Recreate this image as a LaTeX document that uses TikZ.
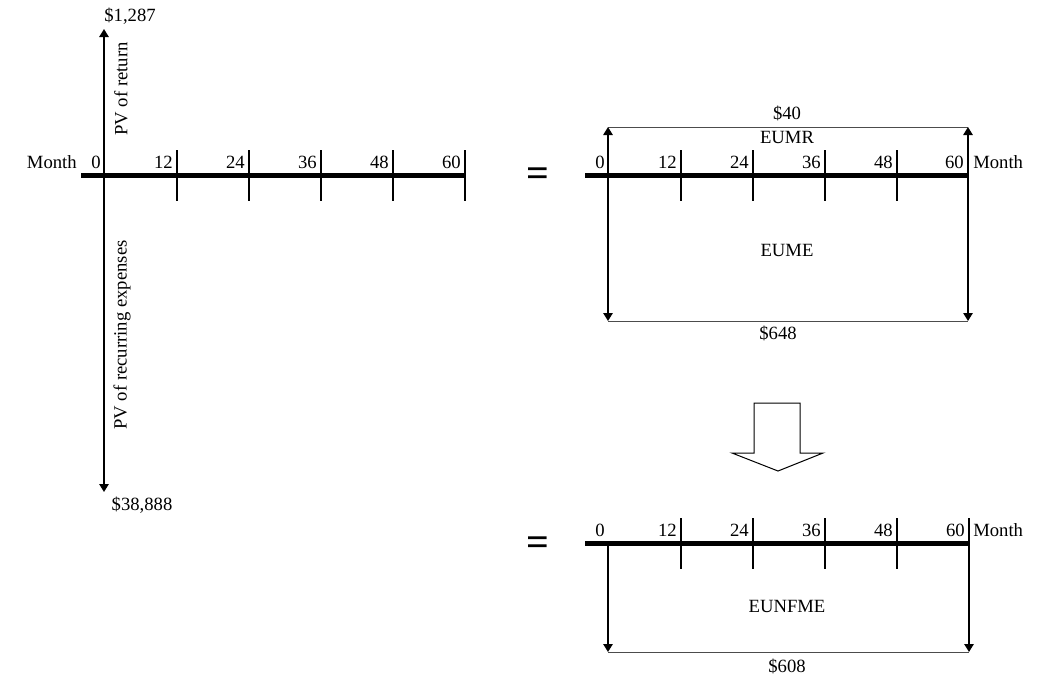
\documentclass[tikz,border=0pt]{standalone}
\usepackage{fontspec}
\setmainfont{Liberation Serif}
\usetikzlibrary{arrows.meta}
\begin{document}
\begin{tikzpicture}[>={Triangle[length=6pt, width=7pt]}, x=0.75pt, y=-0.75pt,
  lbl/.style={font=\fontsize{14}{16}\selectfont, inner sep=0pt},
  eqsign/.style={font=\fontsize{30}{30}\selectfont\bfseries, inner sep=0pt},
  axis/.style={line width=3.75pt},
  tickmark/.style={line width=1.5pt},
  flow/.style={line width=1.3pt},
  rule/.style={line width=0.75pt, black!70}]
  \useasboundingbox (0,0) rectangle (1055,690);

  % left: present values
  \coordinate (L0) at (104,175);
  \coordinate (Ltop) at (104,29);
  \coordinate (Lbot) at (104,492);
  \draw[axis] (81,175) -- (465,175);
  \foreach \x/\m in {177/12, 249/24, 321/36, 393/48, 465/60} {
    \draw[tickmark] (\x,150) -- (\x,201);
    \node[lbl, anchor=east] (l\m) at (\x-4,162) {\m};
  }
  \node[lbl, anchor=east] (l0) at (101,162) {0};
  \node[lbl, anchor=east] (lmonth) at (77,162) {Month};
  \draw[<->, flow] (Ltop) -- (Lbot);
  \node[lbl] (pvr) at (130,16) {\$1,287};
  \node[lbl] (pve) at (142,505) {\$38,888};
  \node[lbl, rotate=90] (pvrtext) at (121,89) {PV of return};
  \node[lbl, rotate=90] (pvetext) at (122,335) {PV of recurring expenses};

  \node[eqsign] (eq1) at (538,177) {=};
  \node[eqsign] (eq2) at (538,546) {=};

  % right top: uniform monthly amounts
  \coordinate (A0) at (608,175);
  \coordinate (A60) at (968,175);
  \draw[axis] (585,175) -- (968,175);
  \foreach \x/\m in {681/12, 753/24, 825/36, 897/48, 968/60} {
    \draw[tickmark] (\x,150) -- (\x,201);
    \node[lbl, anchor=east] (a\m) at (\x-4,162) {\m};
  }
  \node[lbl, anchor=east] (a0) at (605,162) {0};
  \node[lbl, anchor=west] (amonth) at (973,162) {Month};
  \coordinate (Atl) at (608,127);
  \coordinate (Atr) at (968,127);
  \coordinate (Abl) at (608,321);
  \coordinate (Abr) at (968,321);
  \draw[rule] (Atl) -- (Atr);
  \draw[rule] (Abl) -- (Abr);
  \draw[<->, flow] (Atl) -- (Abl);
  \draw[<->, flow] (Atr) -- (Abr);
  \node[lbl] (eumrval) at (787,113) {\$40};
  \node[lbl] (eumr) at (787,137) {EUMR};
  \node[lbl] (eume) at (787,250) {EUME};
  \node[lbl] (eumeval) at (778,333) {\$648};

  % block arrow
  \draw[line width=0.75pt] (754,403) -- (800,403) -- (800,453) -- (823,453)
    -- (778,471) -- (732,453) -- (754,453) -- cycle;

  % right bottom: net amount
  \coordinate (B0) at (608,543);
  \coordinate (B60) at (969,543);
  \coordinate (Bbl) at (608,652);
  \coordinate (Bbr) at (969,652);
  \draw[axis] (585,543) -- (969,543);
  \foreach \x/\m in {681/12, 753/24, 825/36, 897/48, 969/60} {
    \draw[tickmark] (\x,518) -- (\x,569);
    \node[lbl, anchor=east] (b\m) at (\x-4,530) {\m};
  }
  \node[lbl, anchor=east] (b0) at (605,530) {0};
  \node[lbl, anchor=west] (bmonth) at (973,530) {Month};
  \draw[->, flow] (B0) -- (Bbl);
  \draw[->, flow] (B60) -- (Bbr);
  \draw[rule] (Bbl) -- (Bbr);
  \node[lbl] (eunfme) at (787,606) {EUNFME};
  \node[lbl] (eunfmeval) at (787,666) {\$608};
\end{tikzpicture}
\end{document}
